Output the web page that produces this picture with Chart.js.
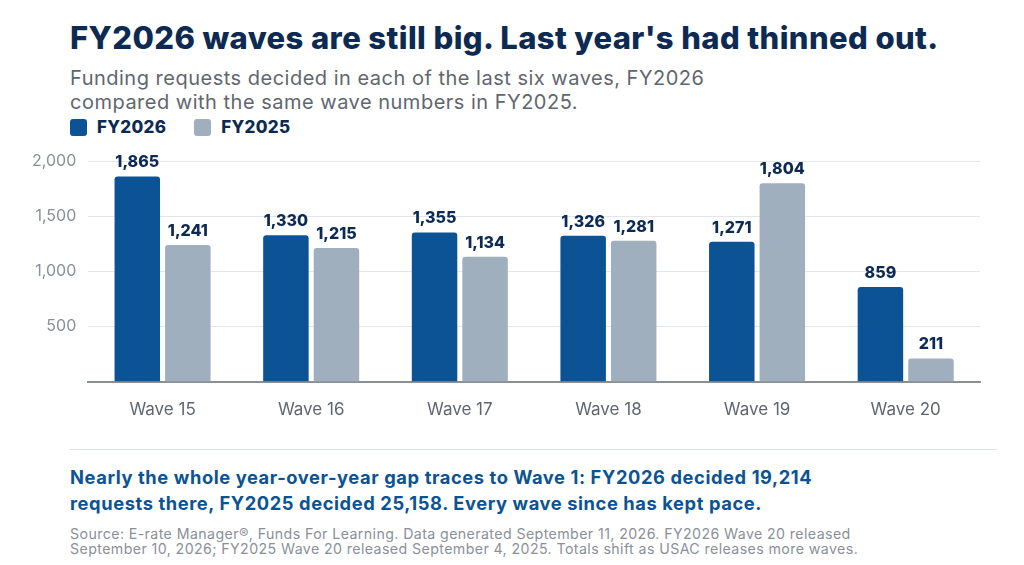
<!DOCTYPE html>
<html><head><meta charset="utf-8">
<script src="https://cdn.jsdelivr.net/npm/chart.js@4"></script>
<style>
body{margin:0;width:1024px;height:565px;background:#fff;font-family:Inter,"Open Sans",sans-serif;position:relative;overflow:hidden}
.t{position:absolute;left:70px;white-space:nowrap}
#title{top:19px;font-size:31px;font-weight:800;color:#0d2a52;letter-spacing:0.4px}
#sub{top:66px;font-size:20px;color:#5f6670;line-height:24px;letter-spacing:0.5px}
#leg{top:117px;font-size:17px;font-weight:800;color:#0d2a52;display:flex;align-items:center;letter-spacing:0.3px}
#leg span.sw{display:inline-block;width:17px;height:17px;border-radius:3px;margin-right:10px}
#note{top:464px;font-size:18.3px;font-weight:700;color:#0b5394;line-height:26px;letter-spacing:0.6px}
#src{top:526px;font-size:14.2px;color:#8a9099;line-height:15px;letter-spacing:0.4px}
#div{position:absolute;left:70px;width:927px;top:449px;height:1px;background:#dde2e8}
#wrap{position:absolute;left:0;top:140px;width:1024px;height:298px}
</style></head><body>
<div class="t" id="title">FY2026 waves are still big. Last year's had thinned out.</div>
<div class="t" id="sub">Funding requests decided in each of the last six waves, FY2026<br>compared with the same wave numbers in FY2025.</div>
<div class="t" id="leg"><span class="sw" style="background:#0b5394"></span>FY2026<span class="sw" style="background:#a0afbd;margin-left:28px"></span>FY2025</div>
<div id="wrap"><canvas id="c"></canvas></div>
<div id="div"></div>
<div class="t" id="note">Nearly the whole year-over-year gap traces to Wave 1: FY2026 decided 19,214<br>requests there, FY2025 decided 25,158. Every wave since has kept pace.</div>
<div class="t" id="src">Source: E-rate Manager®, Funds For Learning. Data generated September 11, 2026. FY2026 Wave 20 released<br>September 10, 2026; FY2025 Wave 20 released September 4, 2025. Totals shift as USAC releases more waves.</div>
<script>
const categories=["Wave 15","Wave 16","Wave 17","Wave 18","Wave 19","Wave 20"];
const fy2026=[1865,1330,1355,1326,1271,859];
const fy2025=[1241,1215,1134,1281,1804,211];
const yTicks=[500,1000,1500,2000];
const labels={id:'lbl',afterDatasetsDraw(ch){const ctx=ch.ctx;ctx.save();ctx.font='800 16px Inter';ctx.fillStyle='#0d2a52';ctx.textAlign='center';ctx.textBaseline='bottom';
ch.data.datasets.forEach((d,i)=>{ch.getDatasetMeta(i).data.forEach((b,j)=>{ctx.fillText(d.data[j].toLocaleString('en-US'),b.x,b.y-6);});});ctx.restore();}};
new Chart(document.getElementById('c'),{type:'bar',
data:{labels:categories,datasets:[
{label:'FY2026',data:fy2026,backgroundColor:'#0b5394',borderRadius:3,borderSkipped:'bottom'},
{label:'FY2025',data:fy2025,backgroundColor:'#a0afbd',borderRadius:3,borderSkipped:'bottom'}]},
options:{responsive:true,maintainAspectRatio:false,animation:false,
layout:{padding:{top:11,right:44,left:20,bottom:8}},
categoryPercentage:0.68,barPercentage:0.9,
plugins:{legend:{display:false},tooltip:{enabled:false}},
scales:{x:{grid:{display:false},border:{color:'#8a8f96',width:2},ticks:{color:'#5f6670',font:{size:17,family:'Inter'},padding:10}},
y:{min:0,max:2000,afterBuildTicks(a){a.ticks=yTicks.map(v=>({value:v}));},
grid:{color:'#e3e7ec',drawTicks:false},border:{display:false},
ticks:{color:'#8a9099',font:{size:16,family:'Inter'},padding:12,callback:v=>v.toLocaleString('en-US')}}}},
plugins:[labels]});
</script></body></html>
